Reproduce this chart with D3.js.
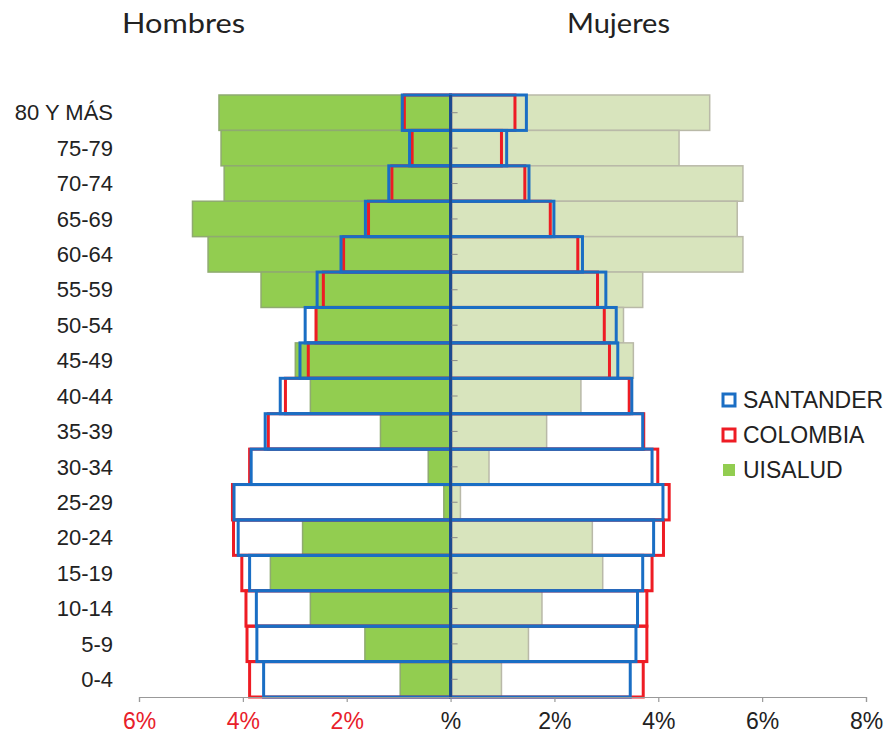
<!DOCTYPE html>
<html><head><meta charset="utf-8">
<script src="https://cdn.jsdelivr.net/npm/d3@7"></script>
<style>body{margin:0;background:#fff}svg{display:block}</style>
</head><body>
<script>
const categories = ["80 Y MÁS","75-79","70-74","65-69","60-64","55-59","50-54","45-49","40-44","35-39","30-34","25-29","20-24","15-19","10-14","5-9","0-4"];
const uisaludH   = [4.46,4.42,4.36,4.97,4.67,3.65,2.60,2.99,2.70,1.35,0.43,0.13,2.85,3.47,2.70,1.65,0.97];
const santanderH = [0.93,0.79,1.19,1.64,2.11,2.57,2.80,2.90,3.28,3.57,3.84,4.17,4.09,3.87,3.74,3.73,3.60];
const colombiaH  = [0.89,0.74,1.13,1.58,2.06,2.45,2.59,2.74,3.18,3.51,3.87,4.20,4.18,4.02,3.94,3.92,3.87];
const uisaludM   = [4.99,4.40,5.63,5.52,5.63,3.70,3.33,3.52,2.51,1.85,0.74,0.19,2.73,2.93,1.76,1.50,0.98];
const santanderM = [1.46,1.08,1.51,1.99,2.54,2.99,3.19,3.22,3.49,3.70,3.88,4.09,3.91,3.70,3.60,3.57,3.46];
const colombiaM  = [1.24,0.98,1.43,1.92,2.45,2.83,2.96,3.06,3.44,3.72,3.99,4.21,4.10,3.88,3.78,3.78,3.71];
const tickValues = [-6,-4,-2,0,2,4,6,8];
const legendItems = ["SANTANDER","COLOMBIA","UISALUD"];

const W = 888, H = 736;
const svg = d3.select("body").append("svg").attr("width", W).attr("height", H);
const x = d3.scaleLinear().domain([-6, 8]).range([139, 866]);
const y = d3.scaleBand().domain(categories).range([95, 697]).padding(0);

const BLUE = "#1a6ec4", RED = "#ee1c24", GREEN = "#92cd50", LGREEN = "#d8e4bd", NAVY = "#1d4a8f";
const SANS = "Liberation Sans, Arial, sans-serif";

function rows(vals, side) {
  return categories.map((c, i) => ({c, v: vals[i], side}));
}
function rx(d) { return d.side < 0 ? x(-d.v) : x(0); }
function rw(d) { return Math.abs(x(d.v) - x(0)); }

const g = svg.append("g");
const all = (a, b) => rows(a, -1).concat(rows(b, 1));

// white fill underlay for outlined series
g.append("g").selectAll("rect").data(all(colombiaH, colombiaM)).join("rect")
  .attr("x", rx).attr("y", d => y(d.c)).attr("width", rw).attr("height", y.bandwidth())
  .attr("fill", "#fff");
g.append("g").selectAll("rect").data(all(santanderH, santanderM)).join("rect")
  .attr("x", rx).attr("y", d => y(d.c)).attr("width", rw).attr("height", y.bandwidth())
  .attr("fill", "#fff");

// UISALUD bars
g.append("g").selectAll("rect").data(all(uisaludH, uisaludM)).join("rect")
  .attr("x", rx).attr("y", d => y(d.c)).attr("width", rw).attr("height", y.bandwidth())
  .attr("fill", d => d.side < 0 ? GREEN : LGREEN)
  .attr("stroke", d => d.side < 0 ? "#8faa70" : "#b9b9a8").attr("stroke-width", 1.5);

// COLOMBIA outlines
g.append("g").selectAll("rect").data(all(colombiaH, colombiaM)).join("rect")
  .attr("x", rx).attr("y", d => y(d.c)).attr("width", rw).attr("height", y.bandwidth())
  .attr("fill", "none").attr("stroke", RED).attr("stroke-width", 3);

// SANTANDER outlines
g.append("g").selectAll("rect").data(all(santanderH, santanderM)).join("rect")
  .attr("x", rx).attr("y", d => y(d.c)).attr("width", rw).attr("height", y.bandwidth())
  .attr("fill", "none").attr("stroke", BLUE).attr("stroke-width", 3);

// center axis
svg.append("line").attr("x1", x(0)).attr("x2", x(0)).attr("y1", 95).attr("y2", 697)
  .attr("stroke", NAVY).attr("stroke-width", 3);
svg.append("g").selectAll("line").data(categories).join("line")
  .attr("x1", x(0) + 1).attr("x2", x(0) + 7)
  .attr("y1", d => y(d) + y.bandwidth() / 2).attr("y2", d => y(d) + y.bandwidth() / 2)
  .attr("stroke", "#8a8a8a").attr("stroke-width", 1);

// category labels
svg.append("g").selectAll("text").data(categories).join("text")
  .attr("x", 113).attr("y", d => y(d) + y.bandwidth() / 2).attr("dy", "0.35em")
  .attr("text-anchor", "end").attr("font-family", SANS)
  .attr("font-size", 22).attr("fill", "#222").text(d => d);

// x axis
const xAxis = d3.axisBottom(x).tickValues(tickValues).tickSize(5).tickPadding(11)
  .tickFormat(v => v === 0 ? "%" : Math.abs(v) + "%");
const ax = svg.append("g").attr("transform", "translate(0,697)").call(xAxis);
ax.select(".domain").attr("stroke", "#999").attr("stroke-width", 1.2);
ax.selectAll(".tick line").attr("stroke", "#999").attr("stroke-width", 1.2);
ax.selectAll(".tick text")
  .attr("font-family", SANS)
  .attr("font-size", 23)
  .attr("fill", v => v < 0 ? "#e8202a" : "#222");

// headers
svg.append("text").attr("x", 122).attr("y", 33).attr("font-family", "Lato, Open Sans, sans-serif")
  .attr("font-weight", 400)
  .attr("font-size", 26).attr("fill", "#222").attr("textLength", 123).attr("lengthAdjust", "spacingAndGlyphs").text("Hombres");
svg.append("text").attr("x", 567).attr("y", 33).attr("font-family", "Lato, Open Sans, sans-serif")
  .attr("font-weight", 400)
  .attr("font-size", 26).attr("fill", "#222").attr("textLength", 103).attr("lengthAdjust", "spacingAndGlyphs").text("Mujeres");

// legend
const leg = svg.append("g").selectAll("g").data(legendItems).join("g")
  .attr("transform", (d, i) => `translate(723,${400 + i * 35})`);
leg.append("rect").attr("x", 0).attr("y", -6).attr("width", 12).attr("height", 12)
  .attr("fill", (d, i) => i === 2 ? GREEN : "#fff")
  .attr("stroke", (d, i) => i === 0 ? BLUE : i === 1 ? RED : "none")
  .attr("stroke-width", 3);
leg.append("text").attr("x", 20).attr("dy", "0.36em")
  .attr("font-family", SANS).attr("font-size", 23)
  .attr("fill", "#222").text(d => d);
</script>
</body></html>
